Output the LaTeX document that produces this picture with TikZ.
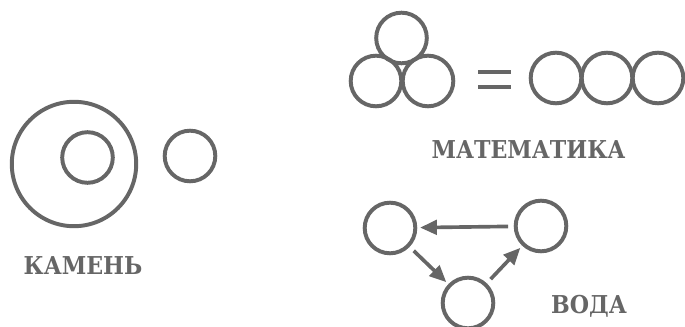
\documentclass[tikz,border=0pt]{standalone}
\usepackage{fontspec}
\setmainfont{DejaVu Serif Condensed}
\usepackage{xcolor}
\usetikzlibrary{arrows.meta, positioning}
\definecolor{inkgray}{HTML}{666666}

\begin{document}
\begin{tikzpicture}[
    x=0.025cm, y=-0.025cm,
    ring/.style={circle, draw=inkgray, line width=2.8pt, minimum size=1.265cm, inner sep=0pt},
    bigring/.style={ring, minimum size=3.11cm},
    label/.style={text=inkgray, font=\bfseries\fontsize{17.5}{20}\selectfont, inner sep=0pt},
    arrow/.style={-{Triangle[length=0.42cm, width=0.36cm]}, draw=inkgray, fill=inkgray, line width=2.6pt, shorten <=4pt, shorten >=2pt}
]
    \useasboundingbox (0,0) rectangle (685,327);

    % stone
    \node[bigring] (stone) at (74,164) {};
    \node[ring] (core) at (87.5,157.5) {};
    \node[ring] (pebble) at (190,156) {};
    \node[label] (kamen) at (83,266) {КАМЕНЬ};

    % mathematics
    \node[ring] (top) at (401.5,38) {};
    \node[ring] (botleft) at (376,81) {};
    \node[ring] (botright) at (428,81) {};
    \draw[inkgray, line width=2.8pt] (478,72) -- (511,72) (478,87) -- (511,87);
    \node[ring] (rowa) at (556,78) {};
    \node[ring] (rowb) at (607,78) {};
    \node[ring] (rowc) at (658,78) {};
    \node[label] (matem) at (528.5,150) {МАТЕМАТИКА};

    % water
    \node[ring] (wleft) at (390,228) {};
    \node[ring] (wright) at (541,226) {};
    \node[ring] (wbottom) at (468,303) {};
    \node[label] (voda) at (589,306) {ВОДА};

    \draw[arrow] (wright) -- (wleft);
    \draw[arrow] (wleft) -- (wbottom);
    \draw[arrow] (wbottom) -- (wright);
\end{tikzpicture}
\end{document}
